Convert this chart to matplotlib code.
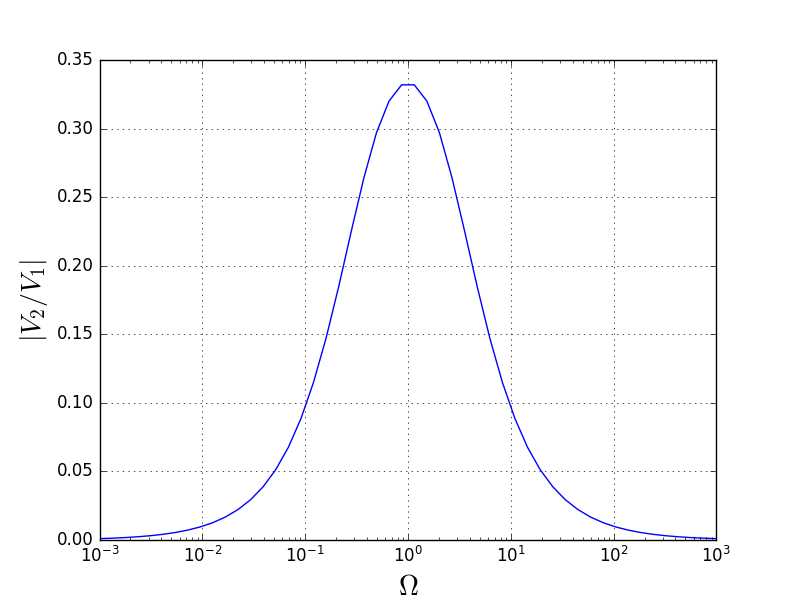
import matplotlib
matplotlib.use("Agg")
import matplotlib.pyplot as plt

plt.style.use('classic')

omega_low = [0.001, 0.001326, 0.001758, 0.002330, 0.003089, 0.004095, 0.005429,
             0.007197, 0.009541, 0.01265, 0.01677, 0.02223, 0.02947, 0.03907,
             0.05179, 0.06867, 0.09103, 0.1207, 0.1600, 0.2121, 0.2812,
             0.3728, 0.4942, 0.6551, 0.8685]
gain_low = [0.001, 0.001326, 0.001758, 0.002330, 0.003089, 0.004095, 0.005429,
            0.007197, 0.009538, 0.01264, 0.01675, 0.02219, 0.02938, 0.03886,
            0.05132, 0.06756, 0.08850, 0.1150, 0.1473, 0.1848, 0.2252,
            0.2641, 0.2970, 0.3201, 0.3319]

omega = omega_low + [1.0 / w for w in reversed(omega_low)]
gain = gain_low + list(reversed(gain_low))

fig = plt.figure(figsize=(7.96, 6.0), dpi=100)
ax = fig.add_subplot(111)
ax.semilogx(omega, gain, 'b-')
ax.set_xlim(1e-3, 1e3)
ax.set_ylim(0, 0.35)
ax.grid(True)
ax.set_xlabel(r'$\Omega$', fontsize=20)
ax.set_ylabel(r'$|V_2/V_1|$', fontsize=20)
fig.savefig('out.png', dpi=100)
